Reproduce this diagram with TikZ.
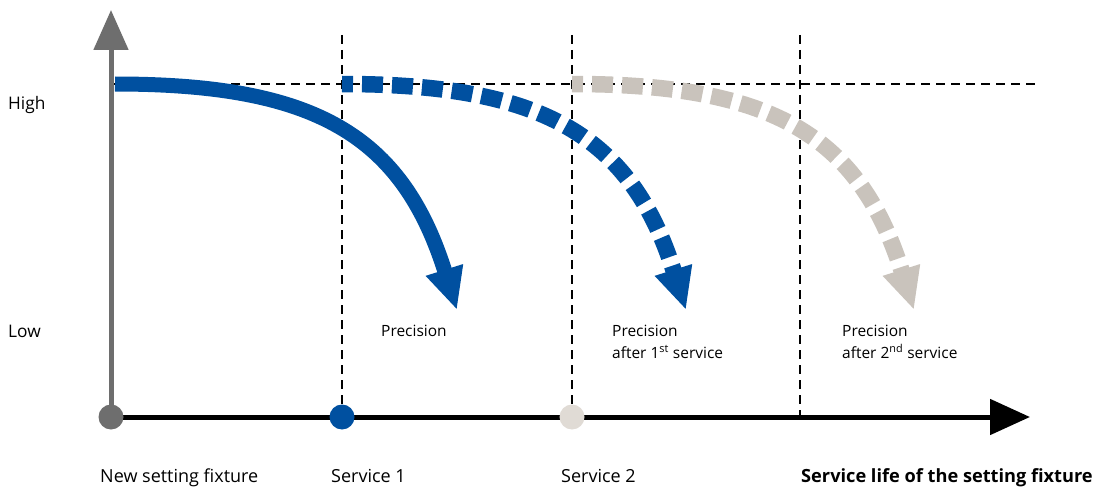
\documentclass[tikz,border=0pt]{standalone}
\usepackage{fontspec}
\setmainfont{Open Sans}
\usetikzlibrary{arrows.meta}
\definecolor{fblue}{RGB}{0,80,160}
\definecolor{fgray}{RGB}{110,110,110}
\definecolor{fsand}{RGB}{201,195,188}
\definecolor{fsandlight}{RGB}{224,219,213}
\begin{document}
\begin{tikzpicture}[x=1pt,y=-1pt,
  axisline/.style={line width=5pt},
  guide/.style={line width=2.6pt,dash pattern=on 9pt off 6pt},
  dot/.style={circle,inner sep=0pt,minimum size=25pt},
  precsolid/.style={line width=15pt,fblue,-{Triangle[length=42pt,width=36pt]}},
  precdash/.style={line width=16.5pt,dash pattern=on 21pt off 9pt,dash phase=10pt,-{Triangle[length=42pt,width=36pt]}},
  lbl/.style={font=\fontsize{18}{22}\selectfont,anchor=base west,inner sep=0pt},
  lblside/.style={font=\fontsize{17.3}{22}\selectfont,anchor=base west,inner sep=0pt},
  lbltwo/.style={font=\fontsize{15.5}{22}\selectfont,anchor=base west,inner sep=0pt,align=left}
]
\useasboundingbox (0,0) rectangle (1096,487);
% coordinates
\coordinate (ytop) at (111,10);
\coordinate (xend) at (1030,417);
\coordinate (hl) at (111,84);
\coordinate (hr) at (1035,84);
\coordinate (v1t) at (342,35);
\coordinate (v2t) at (572,35);
\coordinate (v3t) at (800,35);
\coordinate (v3b) at (800,417);
% dots (positions)
\coordinate (p0) at (111,417);
\coordinate (p1) at (342,417);
\coordinate (p2) at (572,417);
% guides
\draw[guide] (hl) -- (hr);
\draw[guide] (v1t) -- (p1);
\draw[guide] (v2t) -- (p2);
\draw[guide] (v3t) -- (v3b);
% axes
\draw[axisline,fgray,-{Triangle[length=40pt,width=34pt]}] (p0) -- (ytop);
\draw[axisline,black,-{Triangle[length=40pt,width=35pt]}] (p0) -- (xend);
% dots
\node[dot,fill=fgray] (d0) at (p0) {};
\node[dot,fill=fblue] (d1) at (p1) {};
\node[dot,fill=fsandlight] (d2) at (p2) {};
% curves
\coordinate (c0s) at (115,84);
\coordinate (c0e) at (457,310);
\coordinate (c1s) at (342,84);
\coordinate (c1e) at (686,310);
\coordinate (c2s) at (572,84);
\coordinate (c2e) at (914,310);
\draw[precdash,fsand] (c2s) .. controls ([xshift=200]c2s) and ([xshift=-55,yshift=175]c2e) .. (c2e);
\draw[precdash,fblue] (c1s) .. controls ([xshift=200]c1s) and ([xshift=-55,yshift=175]c1e) .. (c1e);
\draw[precsolid] (c0s) .. controls ([xshift=200]c0s) and ([xshift=-55,yshift=175]c0e) .. (c0e);
% labels
\node[lblside] (high) at (8,110) {High};
\node[lblside] (low) at (8,337) {Low};
\node[lbltwo] (pr0) at (381,336) {Precision};
\node[lbltwo] (pr1) at (612,358) {Precision\\after 1\textsuperscript{st} service};
\node[lbltwo] (pr2) at (842,358) {Precision\\after 2\textsuperscript{nd} service};
\node[lbl] (t0) at (100,482) {New setting fixture};
\node[lbl] (t1) at (331,482) {Service 1};
\node[lbl] (t2) at (561,482) {Service 2};
\node[lbl,font=\fontsize{18.2}{22}\selectfont\bfseries] (t3) at (801,482) {Service life of the setting fixture};
\end{tikzpicture}
\end{document}
